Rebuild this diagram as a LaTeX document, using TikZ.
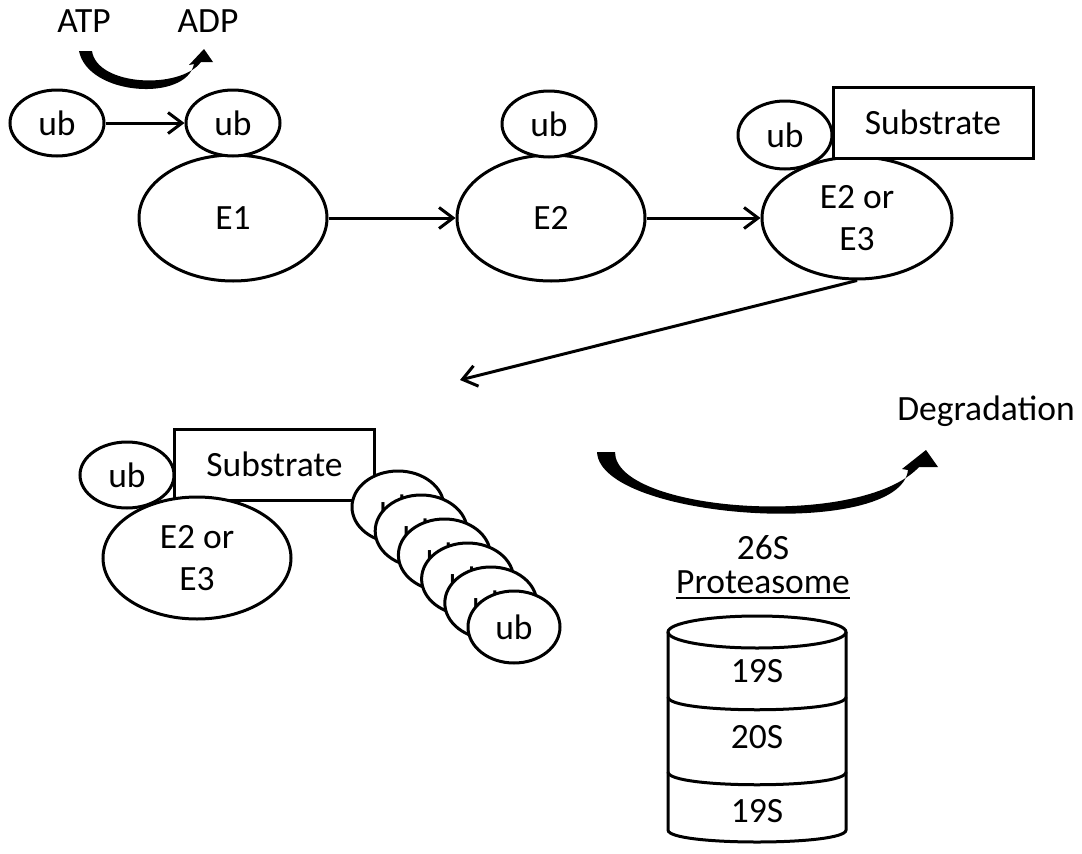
\documentclass[tikz,border=0pt]{standalone}
\usepackage{fontspec}
\setmainfont{Carlito}
\usetikzlibrary{shapes.geometric,arrows.meta}
\begin{document}
\begin{tikzpicture}[x=1pt,y=-1pt,
  every node/.style={font=\fontsize{35.5}{42}\selectfont},
  blob/.style={ellipse,draw,line width=3pt,fill=white,inner sep=0pt},
  ubb/.style={blob,minimum width=94pt,minimum height=66pt},
  enz/.style={blob,minimum width=188pt,minimum height=126pt,align=center},
  subbox/.style={draw,line width=3pt,fill=white,minimum width=200pt,minimum height=71pt,inner sep=0pt},
  flow/.style={line width=3pt,-{Straight Barb[length=14pt,width=21pt]}},
  lbl/.style={anchor=base,inner sep=0pt},
  wall/.style={line width=3pt},
  ]
\path[use as bounding box] (0,0) rectangle (1082,854);

% ATP-driven activation of ubiquitin
\node[lbl] (atp) at (84,32) {ATP};
\node[lbl] (adp) at (208,32) {ADP};
\fill (79,51) .. controls (88,96) and (186,102) .. (194,64)
  -- (189,65) -- (204,49) -- (213,62) -- (201,62)
  .. controls (180,90) and (97,86) .. (92,51) -- cycle;

\node[ubb] (ub0) at (57,123) {ub};
\node[enz] (E1) at (233,218) {E1};
\node[ubb] (ub1) at (233,123) {ub};
\node[enz] (E2) at (551,218) {E2};
\node[ubb] (ub2) at (549,124) {ub};
\node[enz,minimum width=190pt,minimum height=122pt] (E23) at (857,218) {E2 or\\E3};
\node[ubb,minimum height=68pt] (ub3) at (785,135) {ub};
\node[subbox] (S1) at (933,122.5) {Substrate};

\draw[flow] (ub0) -- (ub1);
\draw[flow] (E1) -- (E2);
\draw[flow] (E2) -- (E23);
\coordinate (drop) at (460,380);
\draw[flow] (E23.south) -- (drop);

% polyubiquitinated substrate
\node[ubb] (ub4) at (127,475) {ub};
\node[subbox] (S2) at (274.5,464.5) {Substrate};
\node[enz,minimum height=122pt] (E23b) at (197,558) {E2 or\\E3};
\foreach \i in {0,...,5}
  \node[ubb,minimum width=92pt,minimum height=72pt] (st\i) at ({398+23.2*\i},{507+24*\i}) {ub};

% degradation arrow
\node[lbl] (deg) at (986,420) {Degradation};
\fill (597,452) .. controls (600,520) and (900,540) .. (908,470)
  -- (902,469) -- (926,450) -- (938,467) -- (919,467)
  .. controls (860,530) and (615,512) .. (615,452) -- cycle;

\node[lbl] (p26) at (763,559) {26S};
\node[lbl] (prot) at (763,593) {Proteasome};
\draw[line width=1.5pt] ([yshift=-5pt]prot.base west) -- ([yshift=-5pt]prot.base east);

% proteasome barrel
\draw[wall,fill=white] (668,632) -- (668,830) .. controls (668,846) and (846,846) .. (846,830) -- (846,632);
\draw[wall] (757,632) ellipse [x radius=89, y radius=16];
\draw[wall] (668,697) .. controls (668,714) and (846,714) .. (846,697);
\draw[wall] (668,772) .. controls (668,789) and (846,789) .. (846,772);
\node[lbl] (c1) at (757,682) {19S};
\node[lbl] (c2) at (757,748) {20S};
\node[lbl] (c3) at (757,822) {19S};
\end{tikzpicture}
\end{document}
